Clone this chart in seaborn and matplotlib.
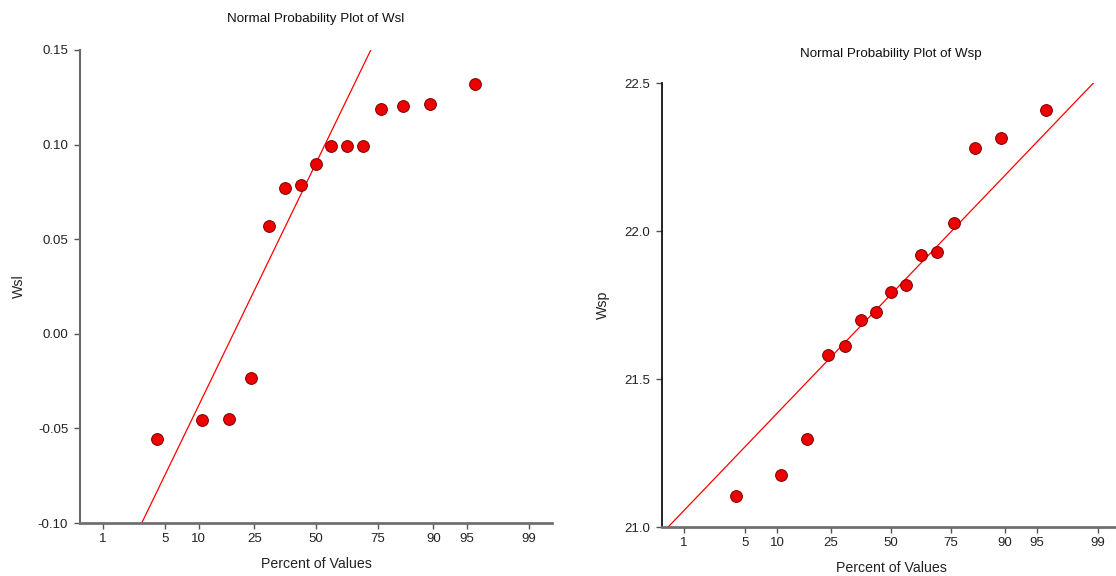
import numpy as np
import pandas as pd
import matplotlib
matplotlib.use("Agg")
import matplotlib.pyplot as plt
import seaborn as sns
from statistics import NormalDist

# ---- data ----
percent_pos = [4.1, 10.7, 17.2, 23.8, 30.3, 36.9, 43.4, 50.0,
               56.6, 63.1, 69.7, 76.2, 82.8, 89.3, 95.9]
wsl_values = [-0.0555, -0.0454, -0.0448, -0.0234, 0.0568, 0.0773, 0.0789, 0.0900,
              0.0992, 0.0993, 0.0995, 0.1189, 0.1203, 0.1216, 0.1320]
wsp_values = [21.105, 21.177, 21.297, 21.581, 21.613, 21.700, 21.725, 21.793,
              21.819, 21.918, 21.929, 22.026, 22.280, 22.314, 22.408]
tick_percents = [1, 5, 10, 25, 50, 75, 90, 95, 99]
tick_labels = ["1", "5", "10", "25", "50", "75", "90", "95", "99"]
x_range = [0.5, 99.5]
wsl_line = {"center": 0.0902, "scale": 0.100}
wsp_line = {"center": 21.786, "scale": 0.3136}
wsl_ticks = [-0.10, -0.05, 0.00, 0.05, 0.10, 0.15]
wsp_ticks = [21.0, 21.5, 22.0, 22.5]

sns.set_style("white")
plt.rcParams["font.family"] = ["Liberation Sans", "DejaVu Sans"]
plt.rcParams["axes.unicode_minus"] = False

_nd = NormalDist()
_ppf = np.vectorize(lambda q: _nd.inv_cdf(q), otypes=[float])
_cdf = np.vectorize(lambda z: _nd.cdf(z), otypes=[float])


def probit(p):
    p = np.asarray(p, dtype=float)
    q = np.clip(p / 100.0, 1e-9, 1 - 1e-9)
    return _ppf(q)


def inv_probit(z):
    z = np.asarray(z, dtype=float)
    return _cdf(z) * 100.0


fig = plt.figure(figsize=(11.16, 5.76), dpi=100)
W, H = 1116, 576
ax1 = fig.add_axes([80 / W, (H - 523) / H, 472 / W, 473 / H])
ax2 = fig.add_axes([662 / W, (H - 527) / H, 458 / W, 444 / H])

panels = [
    (ax1, wsl_values, wsl_line, wsl_ticks, "%.2f", "Wsl", "dimgray", 1.5, 20, 8.5),
    (ax2, wsp_values, wsp_line, wsp_ticks, "%.1f", "Wsp", "black", 1.2, 19, 10),
]

for ax, vals, line, yt, fmt, name, lcol, lw, tpad, ylpad in panels:
    ax.set_xscale("function", functions=(probit, inv_probit))
    df = pd.DataFrame({"pct": percent_pos, "val": vals})
    lx = np.array(x_range)
    ldf = pd.DataFrame({"pct": lx, "val": line["center"] + line["scale"] * probit(lx)})
    sns.lineplot(data=ldf, x="pct", y="val", ax=ax, color="red", lw=0.9,
                 zorder=2, estimator=None, sort=False)
    sns.scatterplot(data=df, x="pct", y="val", ax=ax, color="#ee0000", s=72,
                    edgecolor="#7a0000", linewidth=0.7, zorder=3)
    ax.set_xlim(*x_range)
    ax.set_ylim(yt[0], yt[-1])
    ax.set_xticks(tick_percents)
    ax.set_xticklabels(tick_labels)
    ax.set_yticks(yt)
    ax.set_yticklabels([fmt % v for v in yt])
    ax.xaxis.set_minor_locator(matplotlib.ticker.NullLocator())
    for s in ["top", "right"]:
        ax.spines[s].set_visible(False)
    ax.spines["bottom"].set_color("#707070")
    ax.spines["bottom"].set_linewidth(2.0)
    ax.spines["left"].set_color(lcol)
    ax.spines["left"].set_linewidth(lw)
    ax.tick_params(axis="both", which="major", direction="out", length=4.5, width=1,
                   color="#555555", labelsize=9.5, labelcolor="#222222",
                   bottom=True, left=True)
    ax.tick_params(axis="x", pad=3)
    ax.tick_params(axis="y", pad=4)
    ax.set_title(f"Normal Probability Plot of {name}", fontsize=9.6, color="#111111", pad=tpad)
    ax.set_xlabel("Percent of Values", fontsize=10.2, color="#222222", labelpad=8)
    ax.set_ylabel(name, fontsize=10.2, color="#222222", labelpad=ylpad)
    ax.grid(False)

fig.savefig("out.png", dpi=100)
